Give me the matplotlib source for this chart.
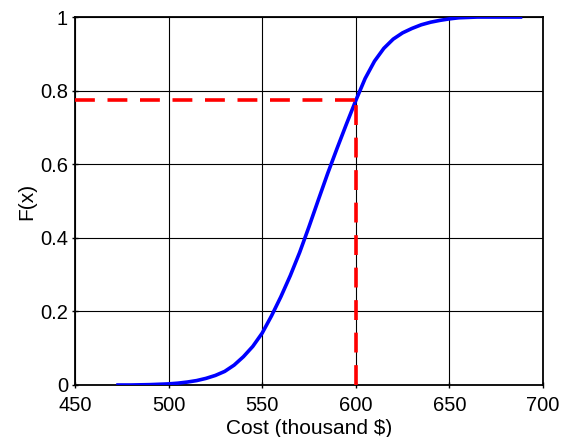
import matplotlib
matplotlib.use("Agg")
import matplotlib.pyplot as plt

plt.rcParams['font.family'] = ['Liberation Sans', 'DejaVu Sans']

cost = [473, 480, 490, 495, 500, 505, 510, 515, 520, 525, 530, 535, 540, 545,
        550, 555, 560, 565, 570, 575, 580, 585, 590, 595, 600, 605, 610, 615,
        620, 625, 630, 635, 640, 645, 650, 655, 660, 665, 688]
cdf = [0, 0, 0.001, 0.002, 0.003, 0.005, 0.008, 0.012, 0.018, 0.026, 0.037,
       0.054, 0.077, 0.105, 0.141, 0.188, 0.240, 0.297, 0.360, 0.430, 0.503,
       0.575, 0.643, 0.709, 0.773, 0.833, 0.880, 0.915, 0.940, 0.957, 0.969,
       0.979, 0.986, 0.991, 0.995, 0.998, 0.999, 1.0, 1.0]

x_mark = 600
f_mark = 0.775

xticks = [450, 500, 550, 600, 650, 700]
yticks = [0, 0.2, 0.4, 0.6, 0.8, 1]
ytick_labels = ['0', '0.2', '0.4', '0.6', '0.8', '1']

fig = plt.figure(figsize=(5.65, 4.37), dpi=100)
ax = fig.add_axes([0.1327, 0.119, 0.8283, 0.842])

ax.plot(cost, cdf, color='#0000ff', linewidth=2.6, zorder=3)
ax.plot([450, x_mark], [f_mark, f_mark], color='#ff0000', linewidth=2.6,
        linestyle=(0, (5.5, 3.5)), zorder=4)
ax.plot([x_mark, x_mark], [0, f_mark], color='#ff0000', linewidth=2.6,
        linestyle=(0, (5.5, 3.5)), zorder=4)

ax.set_xlim(450, 700)
ax.set_ylim(0, 1)
ax.set_xticks(xticks)
ax.set_yticks(yticks)
ax.set_yticklabels(ytick_labels)
ax.grid(True, color='black', linewidth=0.8)
ax.tick_params(direction='inout', labelsize=14.5, length=4, width=1)
ax.tick_params(axis='x', pad=6)
ax.tick_params(axis='y', pad=3)
for s in ax.spines.values():
    s.set_linewidth(1.3)

ax.set_xlabel('Cost (thousand $)', fontsize=15, labelpad=3)
ax.set_ylabel('F(x)', fontsize=15, labelpad=3)

fig.savefig('out.png', dpi=100)
